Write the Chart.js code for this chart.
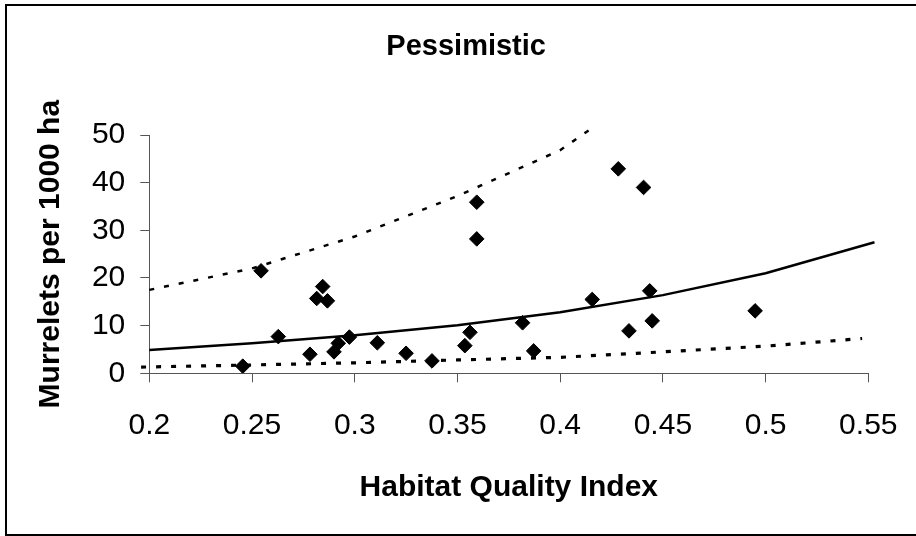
<!DOCTYPE html>
<html>
<head>
<meta charset="utf-8">
<script src="https://cdn.jsdelivr.net/npm/chart.js@4.4.1/dist/chart.umd.min.js"></script>
<style>
  body { margin: 0; background: #fff; }
  canvas { display: block; }
</style>
</head>
<body>
<canvas id="chart" width="916" height="536"></canvas>
<script>
// axis ticks
const xTicks = [0.2, 0.25, 0.3, 0.35, 0.4, 0.45, 0.5, 0.55];
const xTickLabels = ["0.2", "0.25", "0.3", "0.35", "0.4", "0.45", "0.5", "0.55"];
const yTicks = [0, 10, 20, 30, 40, 50];

// observed sites
const habitatIndex = [0.2455, 0.2544, 0.2628, 0.2782, 0.2815, 0.2844, 0.2867, 0.2899, 0.292, 0.2974,
  0.311, 0.325, 0.3376, 0.3536, 0.3561, 0.3594, 0.3594, 0.3817, 0.3871, 0.4156,
  0.4283, 0.4335, 0.4406, 0.4436, 0.4448, 0.4949];
const murrelets = [1.5, 21.5, 7.7, 4.0, 15.7, 18.2, 15.2, 4.5, 6.3, 7.6,
  6.4, 4.2, 2.6, 5.8, 8.6, 28.2, 35.9, 10.6, 4.7, 15.5,
  42.9, 8.9, 39.0, 17.3, 11.0, 13.1];

// fitted curve and bounds
const fitX = [0.2, 0.25, 0.3, 0.35, 0.4, 0.45, 0.5, 0.553];
const fitY = [4.9, 6.3, 8.0, 10.1, 12.8, 16.4, 21.0, 27.5];
const upperX = [0.2, 0.25, 0.3, 0.35, 0.4, 0.414];
const upperY = [17.5, 22.0, 28.7, 37.2, 46.8, 51.0];
const lowerX = [0.196, 0.25, 0.3, 0.35, 0.4, 0.45, 0.5, 0.547];
const lowerY = [1.3, 1.75, 2.2, 2.8, 3.35, 4.5, 5.7, 7.3];

const pts = (xs, ys) => xs.map((x, i) => ({ x: x, y: ys[i] }));
const FONT = "'Liberation Sans', Arial, sans-serif";

// frame round the whole chart
const frame = {
  id: "frame",
  afterDraw(chart) {
    const ctx = chart.ctx;
    ctx.save();
    ctx.strokeStyle = "#000";
    ctx.lineWidth = 2;
    ctx.strokeRect(6, 5, 930, 530);
    ctx.restore();
  }
};

const curve = (data, dash, width) => ({
  type: "line",
  data: data,
  showLine: true,
  borderColor: "#000",
  borderWidth: width,
  borderDash: dash,
  pointRadius: 0,
  tension: 0,
  clip: false
});

new Chart(document.getElementById("chart"), {
  type: "scatter",
  data: {
    datasets: [
      {
        data: pts(habitatIndex, murrelets),
        pointStyle: "rectRot",
        pointRadius: 7.3,
        backgroundColor: "#000",
        borderColor: "#000",
        borderWidth: 1
      },
      curve(pts(fitX, fitY), [], 2.5),
      curve(pts(upperX, upperY), [5, 10], 2.5),
      curve(pts(lowerX, lowerY), [5, 10], 3.2)
    ]
  },
  options: {
    responsive: false,
    animation: false,
    layout: { padding: { left: 64, right: 47.7, top: 0, bottom: 0 } },
    plugins: {
      legend: { display: false },
      tooltip: { enabled: false },
      title: {
        display: true,
        text: "Pessimistic",
        color: "#000",
        font: { family: FONT, size: 29, weight: "bold" },
        padding: { top: 29.6, bottom: 70.6 }
      }
    },
    scales: {
      x: {
        type: "linear",
        min: 0.2,
        max: 0.55,
        afterBuildTicks: s => { s.ticks = xTicks.map(v => ({ value: v })); },
        afterFit: s => { s.height = 162.7; s.paddingLeft = 0; s.paddingRight = 0; },
        ticks: {
          color: "#000",
          font: { family: FONT, size: 30 },
          padding: 25,
          maxRotation: 0,
          callback: (v, i) => xTickLabels[i]
        },
        grid: { drawOnChartArea: false, tickLength: 9, color: "#555" },
        border: { color: "#555", width: 1 },
        title: {
          display: true,
          text: "Habitat Quality Index",
          color: "#000",
          font: { family: FONT, size: 30, weight: "bold" },
          padding: 30
        }
      },
      y: {
        min: 0,
        max: 50,
        afterBuildTicks: s => { s.ticks = yTicks.map(v => ({ value: v })); },
        afterFit: s => { s.width = 85.3; },
        ticks: {
          color: "#000",
          font: { family: FONT, size: 30 },
          padding: 15
        },
        grid: { drawOnChartArea: false, tickLength: 9, color: "#555" },
        border: { color: "#555", width: 1 },
        title: {
          display: true,
          text: "Murrelets per 1000 ha",
          color: "#000",
          font: { family: FONT, size: 30, weight: "bold" },
          padding: -31
        }
      }
    }
  },
  plugins: [frame]
});
</script>
</body>
</html>
